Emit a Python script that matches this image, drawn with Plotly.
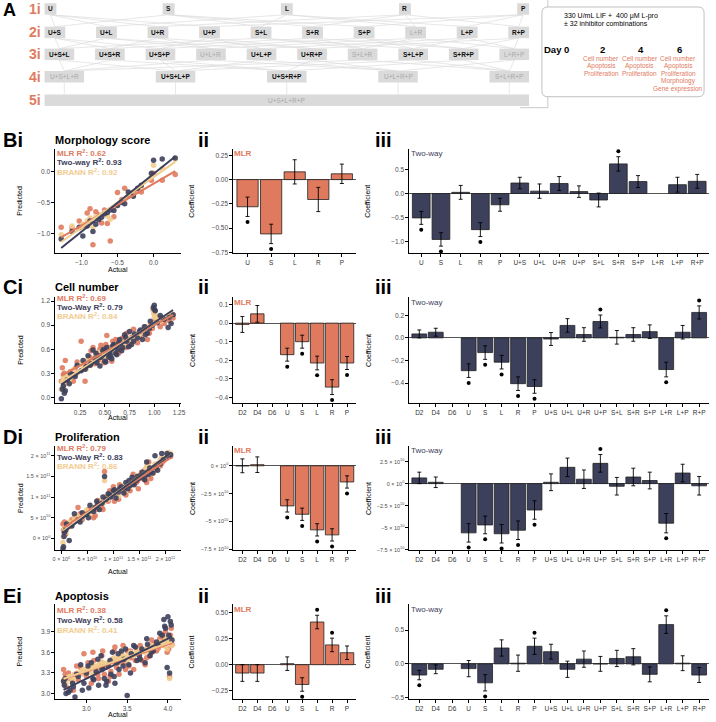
import numpy as np
import plotly.graph_objects as go

W, H = 716, 722
FONT = "Liberation Sans, Arial, sans-serif"
ORANGE = "#E07A5F"
NAVY = "#3D405B"
SAND = "#F2CC8F"

# ---------------- panel A data
singles = ["U", "S", "L", "R", "P"]
pairs = ["U+S", "U+L", "U+R", "U+P", "S+L", "S+R", "S+P", "L+R", "L+P", "R+P"]
triples = ["U+S+L", "U+S+R", "U+S+P", "U+L+R", "U+L+P", "U+R+P", "S+L+R", "S+L+P", "S+R+P", "L+R+P"]
quads = ["U+S+L+R", "U+S+L+P", "U+S+R+P", "U+L+R+P", "S+L+R+P"]
full = ["U+S+L+R+P"]
inactive = ["L+R", "U+L+R", "S+L+R", "L+R+P", "U+S+L+R", "U+L+R+P", "S+L+R+P", "U+S+L+R+P"]
days = [0, 2, 4, 6]
readouts = {
    2: ["Cell number", "Apoptosis", "Proliferation"],
    4: ["Cell number", "Apoptosis", "Proliferation"],
    6: ["Cell number", "Apoptosis", "Proliferation", "Morphology", "Gene expression"],
}

# ---------------- B: morphology
actual_b = [-1.28, -1.13, -1.03, -0.98, -0.92, -0.88, -0.84, -0.80, -0.76, -0.72, -0.68, -0.64, -0.60,
            -0.55, -0.50, -0.44, -0.40, -0.35, -0.28, -0.22, -0.17, -0.03, 0.00, 0.12, 0.30]
mlr_b = [-0.90, -0.91, -0.80, -0.88, -0.67, -0.60, -1.18, -0.65, -0.70, -0.83, -0.62, -0.84, -1.12,
         -0.73, -0.34, -0.45, -0.27, -0.40, -0.34, -0.30, -0.33, -0.14, -0.03, -0.14, -0.05]
two_b = [-1.09, -0.97, -0.90, -1.04, -0.88, -0.80, -0.97, -0.85, -0.78, -0.74, -0.68, -0.66, -0.62,
         -0.63, -0.55, -0.50, -0.52, -0.33, -0.40, -0.27, -0.22, -0.03, 0.18, 0.20, 0.22]
brann_b = [-1.02, -0.88, -0.92, -0.85, -0.80, -0.75, -0.90, -0.73, -0.76, -0.70, -0.66, -0.72, -0.77,
           -0.60, -0.55, -0.48, -0.45, -0.35, -0.38, -0.28, -0.25, -0.08, 0.10, 0.05, 0.20]
r2_b = ["0.62", "0.93", "0.92"]

cats_b2 = ["U", "S", "L", "R", "P"]
mlr_coef_b = [-0.28, -0.56, 0.08, -0.205, 0.06]
mlr_err_b = [0.10, 0.10, 0.125, 0.125, 0.10]
mlr_sig_b = [1, 1, 0, 0, 0]
cats_b3 = ["U", "S", "L", "R", "P", "U+S", "U+L", "U+R", "U+P", "S+L", "S+R", "S+P", "L+R", "L+P", "R+P"]
two_coef_b = [-0.51, -0.96, 0.025, -0.755, -0.235, 0.22, 0.05, 0.21, 0.04, -0.135, 0.62, 0.25, None, 0.185, 0.255]
two_err_b = [0.135, 0.14, 0.145, 0.145, 0.135, 0.12, 0.15, 0.145, 0.12, 0.145, 0.15, 0.125, None, 0.155, 0.145]
two_sig_b = [1, 1, 0, 1, 0, 0, 0, 0, 0, 0, 1, 0, 0, 0, 0]

# ---------------- C: cell number
actual_c = [0.06, 0.07, 0.08, 0.10, 0.12, 0.15, 0.18, 0.22, 0.26, 0.28, 0.30, 0.33, 0.35, 0.38, 0.40, 0.42,
            0.44, 0.46, 0.48, 0.50, 0.52, 0.54, 0.55, 0.57, 0.59, 0.61, 0.63, 0.65, 0.67, 0.70, 0.72, 0.75,
            0.77, 0.80, 0.83, 0.86, 0.88, 0.90, 0.93, 0.96, 0.98, 1.00, 1.00, 1.01, 1.03, 1.06, 1.10, 1.14,
            1.17, 1.19,
            0.09, 0.14, 0.20, 0.31, 0.36, 0.41, 0.45, 0.49, 0.51, 0.53, 0.56, 0.58, 0.62, 0.64, 0.68, 0.71,
            0.74, 0.79, 0.85, 0.91, 0.95, 0.99, 1.08, 1.15]
two_c = [-0.02, 0.10, 0.14, 0.08, 0.22, 0.30, 0.28, 0.40, 0.33, 0.46, 0.35, 0.52, 0.40, 0.59, 0.48, 0.43,
         0.52, 0.50, 0.58, 0.45, 0.62, 0.50, 0.56, 0.48, 0.66, 0.55, 0.60, 0.72, 0.58, 0.78, 0.70, 0.82,
         0.66, 0.79, 0.74, 0.84, 0.72, 0.88, 0.80, 0.95, 0.90, 1.15, 1.10, 1.08, 0.93, 1.02, 0.97, 0.87,
         0.92, 1.03,
         0.05, 0.17, 0.26, 0.38, 0.42, 0.55, 0.39, 0.60, 0.44, 0.57, 0.52, 0.64, 0.53, 0.68, 0.62, 0.75,
         0.63, 0.70, 0.82, 0.78, 0.86, 1.12, 0.99, 1.00]
mlr_c = [0.20, 0.37, 0.28, 0.46, 0.22, 0.32, 0.20, 0.44, 0.70, 0.35, 0.20, 0.46, 0.50, 0.62, 0.42, 0.55,
         0.47, 0.65, 0.58, 0.52, 0.77, 0.54, 0.62, 0.45, 0.66, 0.72, 0.57, 0.60, 0.62, 0.68, 0.80, 0.64,
         0.75, 0.72, 0.68, 0.78, 0.82, 0.83, 0.72, 0.90, 0.86, 1.04, 1.08, 0.98, 1.00, 0.88, 0.92, 0.98,
         1.02, 0.99,
         0.30, 0.25, 0.36, 0.40, 0.58, 0.48, 0.60, 0.43, 0.66, 0.50, 0.58, 0.70, 0.66, 0.55, 0.74, 0.62,
         0.70, 0.85, 0.76, 0.88, 0.80, 1.10, 0.95, 0.96]
brann_c = [0.10, 0.19, 0.24, 0.18, 0.28, 0.25, 0.34, 0.30, 0.42, 0.38, 0.36, 0.47, 0.44, 0.45, 0.50, 0.48,
           0.56, 0.52, 0.49, 0.55, 0.58, 0.60, 0.54, 0.62, 0.57, 0.64, 0.67, 0.62, 0.69, 0.66, 0.72, 0.73,
           0.70, 0.78, 0.76, 0.80, 0.84, 0.82, 0.86, 0.88, 0.92, 1.05, 1.00, 1.02, 0.97, 0.95, 0.98, 1.01,
           1.04, 1.03,
           0.15, 0.22, 0.27, 0.35, 0.40, 0.46, 0.51, 0.53, 0.48, 0.58, 0.55, 0.60, 0.63, 0.65, 0.68, 0.70,
           0.71, 0.74, 0.79, 0.83, 0.88, 1.08, 0.96, 1.00]
r2_c = ["0.69", "0.79", "0.84"]

cats_2 = ["D2", "D4", "D6", "U", "S", "L", "R", "P"]
cats_3 = ["D2", "D4", "D6", "U", "S", "L", "R", "P", "U+S", "U+L", "U+R", "U+P", "S+L", "S+R", "S+P",
          "L+R", "L+P", "R+P"]
mlr_coef_c = [-0.007, 0.05, None, -0.17, -0.10, -0.215, -0.345, -0.215]
mlr_err_c = [0.043, 0.045, None, 0.035, 0.035, 0.037, 0.04, 0.035]
mlr_sig_c = [0, 0, 0, 1, 1, 1, 1, 1]
two_coef_c = [0.035, 0.05, None, -0.29, -0.13, -0.215, -0.405, -0.43, -0.01, 0.11, 0.03, 0.145, 0.005,
              0.03, 0.055, -0.28, 0.05, 0.225]
two_err_c = [0.035, 0.035, None, 0.06, 0.06, 0.06, 0.06, 0.06, 0.057, 0.06, 0.06, 0.057, 0.06, 0.06, 0.06,
             0.065, 0.06, 0.058]
two_sig_c = [0, 0, 0, 1, 1, 1, 1, 1, 0, 0, 0, 1, 0, 0, 0, 1, 0, 1]

# ---------------- D: proliferation (units of 1e10)
actual_d = [0.3, 0.4, 0.5, 0.6, 1.0, 1.5, 2.5, 3.2, 4.0, 4.8, 5.5, 6.2, 6.8, 7.3, 7.8, 8.3, 8.6, 9.0, 9.5,
            10.0, 10.5, 11.0, 11.5, 12.0, 12.4, 12.8, 13.2, 13.6, 14.0, 14.4, 14.8, 15.2, 15.6, 16.0, 16.4,
            16.8, 17.2, 17.6, 18.0, 18.5, 19.0, 19.6, 20.3, 21.0,
            0.8, 2.0, 3.6, 5.2, 6.5, 7.0, 8.0, 9.3, 10.2, 11.2, 12.2, 13.0, 13.8, 14.6, 15.4, 16.2, 17.0,
            18.2, 19.3, 20.6]
two_d = [-2.5, -2.0, 0.5, 1.5, 3.5, -0.5, 6.0, 4.5, 6.2, 5.8, 8.0, 6.5, 9.0, 7.0, 8.5, 15.0, 9.5, 10.8,
         10.0, 11.5, 9.8, 11.2, 12.5, 11.0, 13.5, 12.0, 12.8, 14.8, 13.0, 14.0, 14.5, 15.2, 16.0, 14.2,
         18.5, 15.5, 16.2, 15.8, 20.0, 16.5, 18.0, 19.0, 20.5, 20.2,
         2.0, 3.0, 4.0, 5.0, 7.5, 8.2, 10.0, 10.5, 11.8, 12.0, 12.2, 14.0, 13.2, 15.0, 14.8, 15.2, 17.0,
         17.2, 20.5, 19.8]
mlr_d = [3.5, 2.0, 1.5, 4.0, 2.5, 3.0, 5.0, 7.5, 4.5, 6.0, 6.5, 5.0, 7.0, 8.5, 7.5, 16.2, 10.0, 9.0, 11.0,
         12.5, 10.5, 9.5, 11.8, 12.5, 10.5, 13.0, 11.5, 14.0, 15.0, 13.5, 12.0, 14.5, 14.8, 16.5, 13.5,
         18.5, 14.5, 15.8, 16.5, 18.0, 17.5, 18.8, 19.5, 19.8,
         1.0, 4.5, 6.0, 7.0, 5.5, 9.2, 7.0, 11.5, 9.0, 13.0, 11.5, 12.8, 15.5, 13.8, 16.0, 14.0, 16.5,
         17.0, 18.2, 20.0]
brann_d = [-1.0, 0.5, 1.8, 2.5, 2.0, 4.0, 4.8, 5.5, 5.5, 6.8, 6.0, 7.5, 8.0, 7.0, 9.0, 14.0, 9.8, 9.5,
           10.5, 11.0, 11.5, 10.2, 12.0, 12.8, 11.8, 13.2, 12.5, 14.0, 13.8, 14.5, 15.0, 14.8, 15.5, 16.0,
           17.5, 15.8, 16.5, 16.0, 18.0, 17.0, 19.0, 19.2, 20.0, 20.5,
           1.5, 3.0, 4.2, 6.0, 7.0, 8.0, 8.5, 10.0, 10.8, 11.8, 12.5, 13.0, 14.2, 15.2, 15.0, 16.8, 17.2,
           17.8, 19.5, 20.8]
r2_d = ["0.79", "0.83", "0.86"]
mlr_coef_d = [0.0, 0.1, None, -3.6, -4.35, -5.75, -6.2, -1.45]
mlr_err_d = [0.62, 0.7, None, 0.55, 0.55, 0.55, 0.55, 0.55]
mlr_sig_d = [0, 0, 0, 1, 1, 1, 1, 1]
two_coef_d = [0.65, 0.15, None, -5.6, -4.7, -5.7, -5.3, -3.0, 0.15, 1.85, 0.5, 2.3, -0.3, 0.75, 0.35,
              -4.5, 1.2, -0.25]
two_err_d = [0.65, 0.6, None, 1.05, 1.0, 1.05, 1.05, 1.05, 0.95, 1.05, 1.05, 1.0, 1.0, 1.0, 0.95, 1.1,
             1.0, 1.05]
two_sig_d = [0, 0, 0, 1, 1, 1, 1, 1, 0, 0, 0, 1, 0, 0, 0, 1, 0, 0]

# ---------------- E: apoptosis
actual_e = [2.72, 2.73, 2.75, 2.80, 2.84, 2.86, 2.90, 2.93, 2.97, 3.00, 3.03, 3.06, 3.09, 3.12, 3.15, 3.18,
            3.20, 3.22, 3.25, 3.27, 3.30, 3.32, 3.35, 3.37, 3.40, 3.43, 3.46, 3.50, 3.52, 3.55, 3.58, 3.62,
            3.65, 3.68, 3.72, 3.75, 3.78, 3.82, 3.86, 3.90, 3.93, 3.95, 3.97, 3.99, 4.00, 4.02, 4.03, 4.05,
            2.74, 2.78, 2.83, 2.88, 2.95, 3.02, 3.08, 3.14, 3.19, 3.24, 3.29, 3.34, 3.39, 3.45, 3.48, 3.54,
            3.60, 3.66, 3.74, 3.80, 3.88, 3.96, 4.01, 4.04]
two_e = [3.18, 3.12, 3.00, 3.05, 3.10, 2.95, 3.25, 3.42, 3.15, 3.30, 3.08, 3.45, 3.20, 3.32, 3.12, 3.55,
         3.38, 3.22, 3.18, 3.40, 3.28, 3.60, 3.15, 3.45, 3.35, 3.62, 3.50, 2.97, 3.42, 3.58, 3.70, 3.48,
         3.55, 3.65, 3.45, 3.72, 3.55, 3.62, 3.75, 3.88, 3.85, 4.08, 3.95, 3.38, 4.12, 3.30, 4.05, 3.78,
         3.22, 3.02, 3.15, 3.28, 3.05, 3.40, 3.22, 3.50, 3.35, 3.12, 3.48, 3.25, 3.58, 3.40, 3.65, 3.30,
         3.68, 3.50, 3.80, 3.60, 3.70, 3.98, 3.85, 4.00]
mlr_e = [3.35, 3.15, 3.10, 3.22, 3.05, 3.28, 3.20, 3.38, 3.58, 3.25, 3.35, 3.15, 3.48, 3.30, 3.22, 3.45,
         3.62, 3.28, 3.40, 3.18, 3.32, 3.50, 3.68, 3.38, 3.28, 3.55, 3.45, 3.62, 3.40, 3.52, 3.35, 3.65,
         3.58, 3.48, 3.42, 3.68, 3.55, 3.72, 3.62, 3.80, 3.85, 3.70, 3.90, 3.60, 3.75, 3.25, 3.85, 3.72,
         3.28, 3.30, 3.18, 3.40, 3.30, 3.45, 3.60, 3.28, 3.55, 3.38, 3.25, 3.62, 3.45, 3.70, 3.35, 3.62,
         3.48, 3.70, 3.52, 3.78, 3.66, 3.80, 3.65, 3.95]
brann_e = [3.20, 3.18, 3.15, 3.25, 3.22, 3.28, 3.30, 3.28, 3.35, 3.32, 3.38, 3.30, 3.40, 3.35, 3.42, 3.38,
           3.45, 3.40, 3.44, 3.42, 3.48, 3.46, 3.50, 3.45, 3.52, 3.55, 3.50, 3.48, 3.56, 3.58, 3.55, 3.60,
           3.58, 3.62, 3.60, 3.64, 3.62, 3.66, 3.68, 3.75, 3.72, 3.70, 3.82, 3.65, 3.78, 3.22, 3.80, 3.70,
           3.18, 3.24, 3.20, 3.30, 3.34, 3.36, 3.42, 3.38, 3.46, 3.40, 3.47, 3.52, 3.50, 3.55, 3.53, 3.60,
           3.58, 3.64, 3.65, 3.70, 3.72, 3.75, 3.78, 3.80]
r2_e = ["0.38", "0.58", "0.41"]
mlr_coef_e = [-0.08, -0.08, None, 0.01, -0.19, 0.41, 0.19, 0.115]
mlr_err_e = [0.08, 0.08, None, 0.065, 0.065, 0.065, 0.065, 0.065]
mlr_sig_e = [0, 0, 0, 0, 1, 1, 1, 0]
two_coef_e = [-0.165, -0.08, None, -0.07, -0.28, 0.235, 0.01, 0.26, 0.18, -0.08, 0.07, 0.0, 0.08, 0.105,
              -0.155, 0.58, 0.01, -0.165]
two_err_e = [0.07, 0.065, None, 0.12, 0.12, 0.12, 0.12, 0.12, 0.11, 0.12, 0.12, 0.11, 0.12, 0.12, 0.11,
             0.13, 0.11, 0.11]
two_sig_e = [1, 0, 0, 0, 1, 0, 0, 1, 0, 0, 0, 0, 0, 0, 0, 1, 0, 0]

# ---------------- helpers
fig = go.Figure()
axes = {}
annots = []
shapes = []
count = [0]


def X(p):
    return p / W


def Y(p):
    return 1 - p / H


def new_axes(x0, x1, y0, y1):
    count[0] += 1
    s = "" if count[0] == 1 else str(count[0])
    axes["xaxis" + s] = dict(domain=[X(x0), X(x1)], anchor="y" + s)
    axes["yaxis" + s] = dict(domain=[Y(y1), Y(y0)], anchor="x" + s)
    return "x" + s, "y" + s, s


def ann(x, y, text, size=7, color="black", xanchor="left", yanchor="middle", angle=0, bold=False):
    if bold:
        text = "<b>" + text + "</b>"
    annots.append(dict(x=X(x), y=Y(y), xref="paper", yref="paper", text=text, showarrow=False,
                       xanchor=xanchor, yanchor=yanchor, textangle=angle,
                       xshift=-4 if xanchor == "left" else 0,
                       font=dict(size=size, color=color, family=FONT)))


def axis_style(**kw):
    d = dict(showline=True, linecolor="black", linewidth=1, ticks="outside", ticklen=3, tickwidth=1,
             tickcolor="black", showgrid=False, zeroline=False, mirror=False, tickangle=0,
             tickfont=dict(size=6.5, color="#4d4d4d", family=FONT))
    d.update(kw)
    return d


def scatter_panel(top, bottom, actual, mlr, two, brann, xr, xt, xtl, yr, yt, ytl, tsize=6.5):
    xa, ya, s = new_axes(53, 180, top, bottom)
    for vals, col in [(mlr, ORANGE), (brann, SAND), (two, NAVY)]:
        fig.add_trace(go.Scatter(x=actual, y=vals, mode="markers", xaxis=xa, yaxis=ya, showlegend=False,
                                 marker=dict(color=col, size=5.5, opacity=0.9, line=dict(width=0))))
    lo, hi = min(actual), max(actual)
    for vals, col in [(mlr, ORANGE), (brann, SAND), (two, NAVY)]:
        k, b = np.polyfit(actual, vals, 1)
        fig.add_trace(go.Scatter(x=[lo, hi], y=[k * lo + b, k * hi + b], mode="lines", xaxis=xa, yaxis=ya,
                                 showlegend=False, line=dict(color=col, width=2)))
    tf = dict(size=tsize, color="#4d4d4d", family=FONT)
    axes["xaxis" + s].update(axis_style(range=xr, tickvals=xt, ticktext=xtl, tickfont=tf))
    axes["yaxis" + s].update(axis_style(range=yr, tickvals=yt, ticktext=ytl, tickfont=tf))


def bar_panel(x0, x1, top, bottom, cats, vals, errs, sig, color, yr, yt, ytl, tsize=6.5):
    xa, ya, s = new_axes(x0, x1, top, bottom)
    fig.add_trace(go.Bar(x=cats, y=vals, width=0.9, xaxis=xa, yaxis=ya, showlegend=False,
                         marker=dict(color=color, line=dict(color="#222222", width=0.8)),
                         error_y=dict(type="data", array=[e if e is not None else 0 for e in errs],
                                      color="black", thickness=0.9, width=2)))
    pad = 5.5 * (yr[1] - yr[0]) / (bottom - top)
    sx, sy = [], []
    for c, v, e, g in zip(cats, vals, errs, sig):
        if g and v is not None:
            sx.append(c)
            sy.append(v + e + pad if v > 0 else v - e - pad)
    if sx:
        fig.add_trace(go.Scatter(x=sx, y=sy, mode="markers", xaxis=xa, yaxis=ya, showlegend=False,
                                 marker=dict(symbol="circle", size=4, color="#000000",
                                             line=dict(color="#000000", width=0))))
    axes["xaxis" + s].update(axis_style(type="category", categoryorder="array", categoryarray=cats,
                                        range=[-0.6, len(cats) - 0.4],
                                        tickfont=dict(size=6.5, color="#333333", family=FONT)))
    axes["yaxis" + s].update(axis_style(range=yr, tickvals=yt, ticktext=ytl, zeroline=True,
                                        zerolinecolor="#555555", zerolinewidth=1,
                                        tickfont=dict(size=tsize, color="#4d4d4d", family=FONT)))


# ---------------- panel A: combination lattice
a_rows = [singles, pairs, triples, quads, full]
row_y = [9, 32.5, 54.5, 77, 100.5]
box_w = [12, 21, 30, 40, 490]
box_h = 11.5
left, right = 42, 532


def centers(r):
    n = len(a_rows[r])
    w = box_w[r]
    if n == 1:
        return [(left + right) / 2]
    return [left + w / 2 + i * (right - left - w) / (n - 1) for i in range(n)]


for r in range(4):
    pc = centers(r)
    cc = centers(r + 1)
    for j, child in enumerate(a_rows[r + 1]):
        for i, parent in enumerate(a_rows[r]):
            if set(parent.split("+")) <= set(child.split("+")):
                x_end = cc[j] if r < 3 else pc[i]
                shapes.append(dict(type="line", xref="paper", yref="paper",
                                   x0=X(pc[i]), y0=Y(row_y[r] + box_h / 2),
                                   x1=X(x_end), y1=Y(row_y[r + 1] - box_h / 2),
                                   line=dict(color="#dcdcdc", width=0.7)))

for r, items in enumerate(a_rows):
    for c, name in zip(centers(r), items):
        off = name in inactive
        shapes.append(dict(type="rect", xref="paper", yref="paper", x0=X(c - box_w[r] / 2),
                           x1=X(c + box_w[r] / 2), y0=Y(row_y[r] + box_h / 2), y1=Y(row_y[r] - box_h / 2),
                           fillcolor="#dadada", line=dict(width=0)))
        ann(c, row_y[r], name, size=6.5, color="#a8a8a8" if off else "#111111", xanchor="center",
            bold=not off)
    ann(32, row_y[r], f"{r + 1}i", size=14, color=ORANGE, xanchor="center", bold=True)
ann(2, 10, "A", size=18, bold=True)

# frame pieces
shapes.append(dict(type="line", xref="paper", yref="paper", x0=X(551), x1=X(551), y0=Y(0), y1=Y(108),
                   line=dict(color="#c8c8c8", width=1)))
shapes.append(dict(type="line", xref="paper", yref="paper", x0=X(523), x1=X(551), y0=Y(108), y1=Y(108),
                   line=dict(color="#c8c8c8", width=1)))

# rounded box
bx0, bx1, by0, by1, rr = 545, 709, 7, 97, 6
path = (f"M {X(bx0 + rr)},{Y(by0)} L {X(bx1 - rr)},{Y(by0)} Q {X(bx1)},{Y(by0)} {X(bx1)},{Y(by0 + rr)} "
        f"L {X(bx1)},{Y(by1 - rr)} Q {X(bx1)},{Y(by1)} {X(bx1 - rr)},{Y(by1)} "
        f"L {X(bx0 + rr)},{Y(by1)} Q {X(bx0)},{Y(by1)} {X(bx0)},{Y(by1 - rr)} "
        f"L {X(bx0)},{Y(by0 + rr)} Q {X(bx0)},{Y(by0)} {X(bx0 + rr)},{Y(by0)} Z")
shapes.append(dict(type="path", xref="paper", yref="paper", path=path, fillcolor="white",
                   line=dict(color="#c0c0c0", width=1)))
ann(569, 16, "330 U/mL LIF +  400 μM L-pro", size=7)
ann(569, 23.5, "± 32 inhibitor combinations", size=7)

tx, ty, ts = new_axes(569, 686, 30, 43)
fig.add_trace(go.Bar(x=[days[i + 1] - days[i] for i in range(3)], base=days[:3], y=[0.5, 0.5, 0.5],
                     orientation="h", width=1, xaxis=tx, yaxis=ty, showlegend=False,
                     marker=dict(color=NAVY, line=dict(color="white", width=1))))
axes["xaxis" + ts].update(range=[0, 6], visible=False)
axes["yaxis" + ts].update(range=[0, 1], visible=False)
ann(549, 50, "Day", size=9.5, bold=True)
for d in days:
    annots.append(dict(x=d, xref=tx, y=Y(50), yref="paper", text=f"<b>{d}</b>", showarrow=False,
                       xanchor="center", yanchor="middle", xshift=-2 if d else 1,
                       font=dict(size=9.5, color="black", family=FONT)))
for d, lines in readouts.items():
    for k, line in enumerate(lines):
        annots.append(dict(x=d, xref=tx, y=Y(59 + 7.5 * k), yref="paper", text=line, showarrow=False,
                           xanchor="center", yanchor="middle", xshift=-3,
                           font=dict(size=6.5, color=ORANGE, family=FONT)))

# ---------------- rows B-E
sci = ["0 × 10<sup>0</sup>", "5 × 10<sup>10</sup>", "1 × 10<sup>11</sup>", "1.5 × 10<sup>11</sup>",
       "2 × 10<sup>11</sup>"]
rows = [
    dict(tag="B", title="Morphology score", label_y=140, top=149, bottom=254, actual_y=270,
         leg=[153, 162.5, 172], two_name="Two-way", r2=r2_b, sct=6.5, bt=6.5,
         sc=(actual_b, mlr_b, two_b, brann_b, [-1.36, 0.38], [-1.0, -0.5, 0.0], ["−1.0", "−0.5", "0.0"],
             [-1.32, 0.37], [-1.0, -0.5, 0.0], ["−1.0", "−0.5", "0.0"]),
         b2=(cats_b2, mlr_coef_b, mlr_err_b, mlr_sig_b, [-0.76, 0.32], [-0.75, -0.5, -0.25, 0, 0.25],
             ["−0.75", "−0.50", "−0.25", "0.00", "0.25"]),
         b3=(cats_b3, two_coef_b, two_err_b, two_sig_b, [-1.25, 0.94], [-1.0, -0.5, 0, 0.5],
             ["−1.0", "−0.5", "0.0", "0.5"])),
    dict(tag="C", title="Cell number", label_y=288, top=298, bottom=404, actual_y=419,
         leg=[298.5, 307.5, 316.5], two_name="Two-Way", r2=r2_c, sct=6.5, bt=6.5,
         sc=(actual_c, mlr_c, two_c, brann_c, [0.0, 1.27], [0.25, 0.5, 0.75, 1.0, 1.25],
             ["0.25", "0.50", "0.75", "1.00", "1.25"],
             [-0.07, 1.25], [0, 0.3, 0.6, 0.9, 1.2], ["0.0", "0.3", "0.6", "0.9", "1.2"]),
         b2=(cats_2, mlr_coef_c, mlr_err_c, mlr_sig_c, [-0.43, 0.14], [-0.4, -0.3, -0.2, -0.1, 0, 0.1],
             ["−0.4", "−0.3", "−0.2", "−0.1", "0.0", "0.1"]),
         b3=(cats_3, two_coef_c, two_err_c, two_sig_c, [-0.575, 0.36], [-0.4, -0.2, 0, 0.2],
             ["−0.4", "−0.2", "0.0", "0.2"])),
    dict(tag="D", title="Proliferation", label_y=438, top=447, bottom=552, actual_y=573,
         leg=[449, 458, 467], two_name="Two-Way", r2=r2_d, sct=5.5, bt=5.5,
         sc=([v * 1e10 for v in actual_d], [v * 1e10 for v in mlr_d], [v * 1e10 for v in two_d],
             [v * 1e10 for v in brann_d], [-1.15e10, 2.3e11], [0, 5e10, 1e11, 1.5e11, 2e11], sci,
             [-2.9e10, 2.24e11], [0, 5e10, 1e11, 1.5e11, 2e11], sci),
         b2=(cats_2, [v * 1e10 if v is not None else None for v in mlr_coef_d],
             [v * 1e10 if v is not None else None for v in mlr_err_d], mlr_sig_d, [-7.6e10, 1.8e10],
             [-7.5e10, -5e10, -2.5e10, 0],
             ["−7.5 × 10<sup>10</sup>", "−5 × 10<sup>10</sup>", "−2.5 × 10<sup>10</sup>", "0 × 10<sup>0</sup>"]),
         b3=(cats_3, [v * 1e10 if v is not None else None for v in two_coef_d],
             [v * 1e10 if v is not None else None for v in two_err_d], two_sig_d, [-7.6e10, 4.3e10],
             [-7.5e10, -5e10, -2.5e10, 0, 2.5e10],
             ["−7.5 × 10<sup>10</sup>", "−5 × 10<sup>10</sup>", "−2.5 × 10<sup>10</sup>", "0 × 10<sup>0</sup>",
              "2.5 × 10<sup>10</sup>"])),
    dict(tag="E", title="Apoptosis", label_y=598, top=606, bottom=701, actual_y=716,
         leg=[612, 622, 632], two_name="Two-Way", r2=r2_e, sct=6.5, bt=6.5,
         sc=(actual_e, mlr_e, two_e, brann_e, [2.62, 4.16], [3.0, 3.5, 4.0], ["3.0", "3.5", "4.0"],
             [2.92, 4.3], [3.0, 3.3, 3.6, 3.9], ["3.0", "3.3", "3.6", "3.9"]),
         b2=(cats_2, mlr_coef_e, mlr_err_e, mlr_sig_e, [-0.33, 0.58], [-0.25, 0, 0.25, 0.5],
             ["−0.25", "0.00", "0.25", "0.50"]),
         b3=(cats_3, two_coef_e, two_err_e, two_sig_e, [-0.52, 0.88], [-0.5, 0, 0.5],
             ["−0.5", "0.0", "0.5"])),
]

for row in rows:
    t, b = row["top"], row["bottom"]
    scatter_panel(t, b, *row["sc"], tsize=row["sct"])
    bar_panel(233, 357, t, b, *row["b2"][:4], ORANGE, *row["b2"][4:], tsize=row["bt"])
    bar_panel(411, 714, t, b, *row["b3"][:4], NAVY, *row["b3"][4:], tsize=row["bt"])
    ly = row["label_y"]
    ann(2, ly, row["tag"] + "i", size=20, bold=True)
    ann(199, ly, "ii", size=20, bold=True)
    ann(378, ly, "iii", size=20, bold=True)
    ann(55, ly, row["title"], size=11, bold=True)
    names = ["MLR", row["two_name"], "BRANN"]
    for nm, r2, col, yy in zip(names, row["r2"], [ORANGE, NAVY, SAND], row["leg"]):
        ann(57, yy, f"{nm} R<sup>2</sup>: {r2}", size=8, color=col, bold=True)
    ann(236, t + 5, "MLR", size=8, color=ORANGE, bold=True)
    ann(415, t + 5, "Two-way", size=8, color=NAVY)
    mid = (t + b) / 2
    ann(17, mid, "Predicted", size=7, xanchor="center", angle=-90)
    ann(191, mid, "Coefficient", size=7, xanchor="center", angle=-90)
    ann(369, mid, "Coefficient", size=7, xanchor="center", angle=-90)
    ann(116, row["actual_y"], "Actual", size=7, xanchor="center")

fig.update_layout(width=W, height=H, margin=dict(l=0, r=0, t=0, b=0), paper_bgcolor="white",
                  plot_bgcolor="white", font=dict(family=FONT), annotations=annots, shapes=shapes,
                  bargap=0.1, **axes)
fig.write_html("out.html", config={"displayModeBar": False},
               post_script="document.body.style.margin='0';")
